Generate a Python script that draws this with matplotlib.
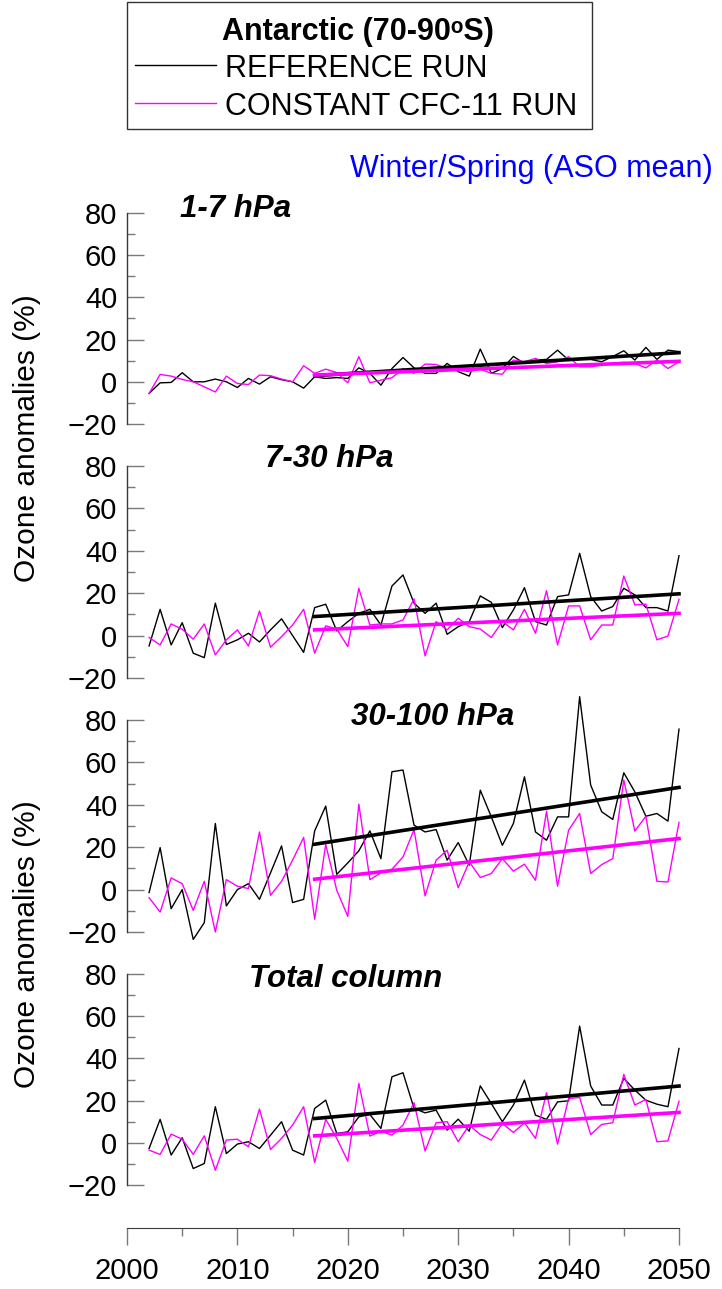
import numpy as np
import matplotlib
matplotlib.use("Agg")
import matplotlib.pyplot as plt
from matplotlib.patches import Rectangle
from matplotlib.lines import Line2D
from matplotlib.ticker import MultipleLocator

plt.rcParams['font.family'] = ['Liberation Sans', 'DejaVu Sans']

# ---------------- data ----------------
years = list(range(2002, 2051))
trend_years = [2017, 2050]

panel_titles = ["1-7 hPa", "7-30 hPa", "30-100 hPa", "Total column"]

ref_1_7 = [-5.5, -0.5, -0.3, 4.3, 0, 0, 1.3, 0, -2.7, 1.6, -1.1, 2.4, 1.0, 0, -3.0,
           2.4, 1.6, 2.0, 1.6, 6.6, 4.0, -1.6, 6.3, 11.5, 6.6,
           4.0, 4.0, 8.7, 4.8, 2.7, 15.5, 4.0, 6.3, 12.0, 8.7,
           10.3, 10.6, 15.0, 10.3, 10.6, 10.6, 9.5, 12.0, 14.7, 10.3,
           16.3, 10.6, 15.0, 14.3]
cfc_1_7 = [-5.5, 3.5, 2.7, 1.1, 0, -2.4, -4.8, 2.7, -0.8, -1.3, 3.2, 2.9, 1.3, 0, 7.6,
           4.0, 6.0, 4.4, -0.5, 11.9, -0.5, 0.8, 1.9, 6.3, 4.0,
           8.4, 8.2, 6.3, 5.5, 4.8, 6.0, 4.0, 3.6, 10.3, 9.5,
           11.1, 8.7, 9.5, 11.9, 7.1, 7.1, 7.9, 8.7, 9.2, 8.7,
           6.6, 10.3, 6.3, 9.5]

ref_7_30 = [-4.9, 12.4, -4.4, 6.1, -8.3, -10.4, 15.3, -4.2, -2.0, 1.1, -3.0, 2.7, 7.9, 0.0, -7.9,
            13.2, 14.8, 2.2, 6.6, 10.5, 12.4, 5.0, 23.4, 28.6, 15.3,
            10.5, 15.3, 0.6, 4.2, 6.6, 18.7, 15.7, 3.8, 12.1, 22.6,
            6.6, 5.0, 18.4, 19.2, 38.8, 18.4, 11.6, 13.7, 22.3, 19.2,
            13.2, 13.2, 11.6, 37.7]
cfc_7_30 = [-0.9, -4.4, 5.5, 3.0, -1.7, 5.5, -9.1, -2.0, 2.7, -4.9, 11.6, -5.5, -0.5, 5.0, 12.4,
            -8.3, 4.6, 3.1, -5.2, 22.3, 5.0, 5.5, 5.5, 7.4, 17.3,
            -9.6, 6.6, 2.7, 8.2, 4.2, 3.1, -0.9, 6.6, 2.7, 12.4,
            1.1, 21.2, -4.4, 14.0, 14.0, -2.0, 5.0, 5.0, 28.1, 14.5,
            14.8, -2.0, -0.2, 17.1]

ref_30_100 = [-1.4, 19.8, -9.0, 0.0, -23.5, -15.6, 31.2, -7.7, 0.0, 2.8, -4.6, 7.9, 20.6, -6.1, -4.6,
              27.7, 39.4, 7.2, 12.6, 18.3, 27.7, 14.6, 55.6, 56.4, 30.4,
              27.2, 28.3, 13.9, 22.2, 11.5, 46.9, 34.3, 20.9, 31.2, 53.2,
              27.2, 23.3, 34.3, 34.3, 91.0, 49.3, 36.7, 33.1, 55.1, 46.1,
              34.6, 35.9, 32.3, 75.7]
cfc_30_100 = [-3.8, -10.6, 5.5, 2.8, -9.8, 3.9, -20.0, 4.7, 1.6, 0.5, 27.2, -2.7, 3.9, 13.9, 24.6,
              -14.0, 21.3, -0.3, -12.6, 40.3, 4.7, 7.9, 9.6, 15.4, 28.3,
              -3.0, 13.9, 18.6, 0.9, 13.1, 5.7, 7.6, 14.6, 8.7, 12.0,
              4.4, 37.0, 1.6, 28.0, 35.9, 7.6, 11.8, 14.6, 51.7, 27.6,
              34.6, 3.9, 3.6, 31.7]

ref_total = [-2.7, 11.1, -5.8, 2.4, -12.2, -9.8, 17.1, -5.1, -0.6, 0.5, -2.7, 3.6, 10.0, -3.5, -5.8,
             16.3, 20.2, 4.4, 5.2, 12.3, 13.4, 6.8, 31.3, 33.2, 16.3,
             14.2, 15.5, 6.0, 11.2, 5.5, 27.0, 18.6, 10.0, 17.9, 29.7,
             13.1, 11.1, 19.4, 19.9, 55.3, 26.9, 17.9, 17.9, 30.5, 25.0,
             20.2, 18.3, 17.1, 44.7]
cfc_total = [-3.5, -5.5, 4.1, 1.7, -5.5, 3.3, -13.0, 1.3, 1.7, -1.9, 16.0, -3.2, 2.1, 8.4, 17.1,
             -9.3, 11.1, 2.1, -8.7, 28.1, 3.2, 5.5, 3.6, 8.4, 19.0,
             -3.9, 9.5, 10.0, 0.5, 8.4, 3.9, 1.3, 9.2, 4.9, 9.5,
             2.1, 23.7, -0.6, 21.0, 21.5, 3.9, 8.7, 9.5, 32.4, 17.9,
             20.5, 0.5, 0.9, 19.7]

# linear trends (values at 2017 and 2050)
ref_trend_1_7 = [2.9, 13.8]
cfc_trend_1_7 = [3.2, 9.7]
ref_trend_7_30 = [9.0, 19.7]
cfc_trend_7_30 = [2.7, 10.5]
ref_trend_30_100 = [21.4, 48.2]
cfc_trend_30_100 = [4.9, 24.1]
ref_trend_total = [11.5, 26.9]
cfc_trend_total = [3.3, 14.4]

ref_series = [ref_1_7, ref_7_30, ref_30_100, ref_total]
cfc_series = [cfc_1_7, cfc_7_30, cfc_30_100, cfc_total]
ref_trends = [ref_trend_1_7, ref_trend_7_30, ref_trend_30_100, ref_trend_total]
cfc_trends = [cfc_trend_1_7, cfc_trend_7_30, cfc_trend_30_100, cfc_trend_total]

# ---------------- layout ----------------
W, H = 722, 1289
fig = plt.figure(figsize=(W / 100, H / 100), dpi=100)

def fx(px):
    return px / W

def fy(py):
    return 1 - py / H

x_left, x_right = 127, 679
panel_px = [(213, 424), (466, 678), (720, 932), (974, 1185)]
title_pos = [(180, 217), (265, 467), (351, 725), (249, 987)]

MAGENTA = '#FF00FF'
SPINE_C = '#3a3a3a'
TICK_C = '#7a7a7a'
TICK_FS = 21

for i, (top, bot) in enumerate(panel_px):
    ax = fig.add_axes([fx(x_left), fy(bot), fx(x_right - x_left), (bot - top) / H])
    ax.set_xlim(2000, 2050)
    ax.set_ylim(-20, 80)
    ax.patch.set_visible(False)
    for s in ['top', 'right', 'bottom']:
        ax.spines[s].set_visible(False)
    ax.spines['left'].set_color(SPINE_C)
    ax.spines['left'].set_linewidth(1.0)
    ax.set_xticks([])
    ax.yaxis.set_major_locator(MultipleLocator(20))
    ax.yaxis.set_minor_locator(MultipleLocator(10))
    ax.tick_params(axis='y', which='major', direction='in', length=12, width=1.0,
                   color=TICK_C, labelsize=TICK_FS, pad=7)
    ax.tick_params(axis='y', which='minor', direction='in', length=6, width=1.0,
                   color=TICK_C)
    ax.plot(years, ref_series[i], color='black', lw=1.0, clip_on=False, zorder=3)
    ax.plot(years, cfc_series[i], color=MAGENTA, lw=1.0, clip_on=False, zorder=4)
    ax.plot(trend_years, ref_trends[i], color='black', lw=2.6, clip_on=False, zorder=5)
    ax.plot(trend_years, cfc_trends[i], color=MAGENTA, lw=2.6, clip_on=False, zorder=6)
    tx, ty = title_pos[i]
    fig.text(fx(tx), fy(ty), panel_titles[i], fontsize=22.5, fontweight='bold',
             fontstyle='italic', ha='left', va='baseline')

# bottom x axis
axx = fig.add_axes([fx(x_left), fy(1228), fx(x_right - x_left), 0.0001])
axx.set_xlim(2000, 2050)
axx.patch.set_visible(False)
for s in ['top', 'right', 'left']:
    axx.spines[s].set_visible(False)
axx.spines['bottom'].set_color(SPINE_C)
axx.set_yticks([])
axx.xaxis.set_major_locator(MultipleLocator(10))
axx.xaxis.set_minor_locator(MultipleLocator(5))
axx.tick_params(axis='x', which='major', direction='out', length=12, width=1.0,
                color=TICK_C, labelsize=TICK_FS, pad=9)
axx.tick_params(axis='x', which='minor', direction='out', length=6, width=1.0,
                color=TICK_C)

# y labels
fig.text(fx(27), fy(438), "Ozone anomalies (%)", rotation=90, fontsize=21.5,
         ha='center', va='center')
fig.text(fx(27), fy(944), "Ozone anomalies (%)", rotation=90, fontsize=21.5,
         ha='center', va='center')

# blue subtitle
fig.text(fx(713), fy(177), "Winter/Spring (ASO mean)", color='#0000FF',
         fontsize=22, ha='right', va='baseline')

# legend box
fig.patches.append(Rectangle((fx(127), fy(129)), fx(592 - 127), (129 - 2) / H,
                             transform=fig.transFigure, fill=False,
                             edgecolor='#333333', lw=1.0))
fig.text(fx(358), fy(40), "Antarctic (70-90\u1d52S)", fontsize=22,
         fontweight='bold', ha='center', va='baseline')
fig.lines.append(Line2D([fx(135), fx(216)], [fy(65), fy(65)], transform=fig.transFigure,
                        color='black', lw=1.0))
fig.lines.append(Line2D([fx(135), fx(216)], [fy(103), fy(103)], transform=fig.transFigure,
                        color=MAGENTA, lw=1.0))
fig.text(fx(225), fy(77), "REFERENCE RUN", fontsize=22, ha='left', va='baseline')
fig.text(fx(225), fy(115), "CONSTANT CFC-11 RUN", fontsize=22, ha='left', va='baseline')

fig.savefig("out.png", dpi=100)
